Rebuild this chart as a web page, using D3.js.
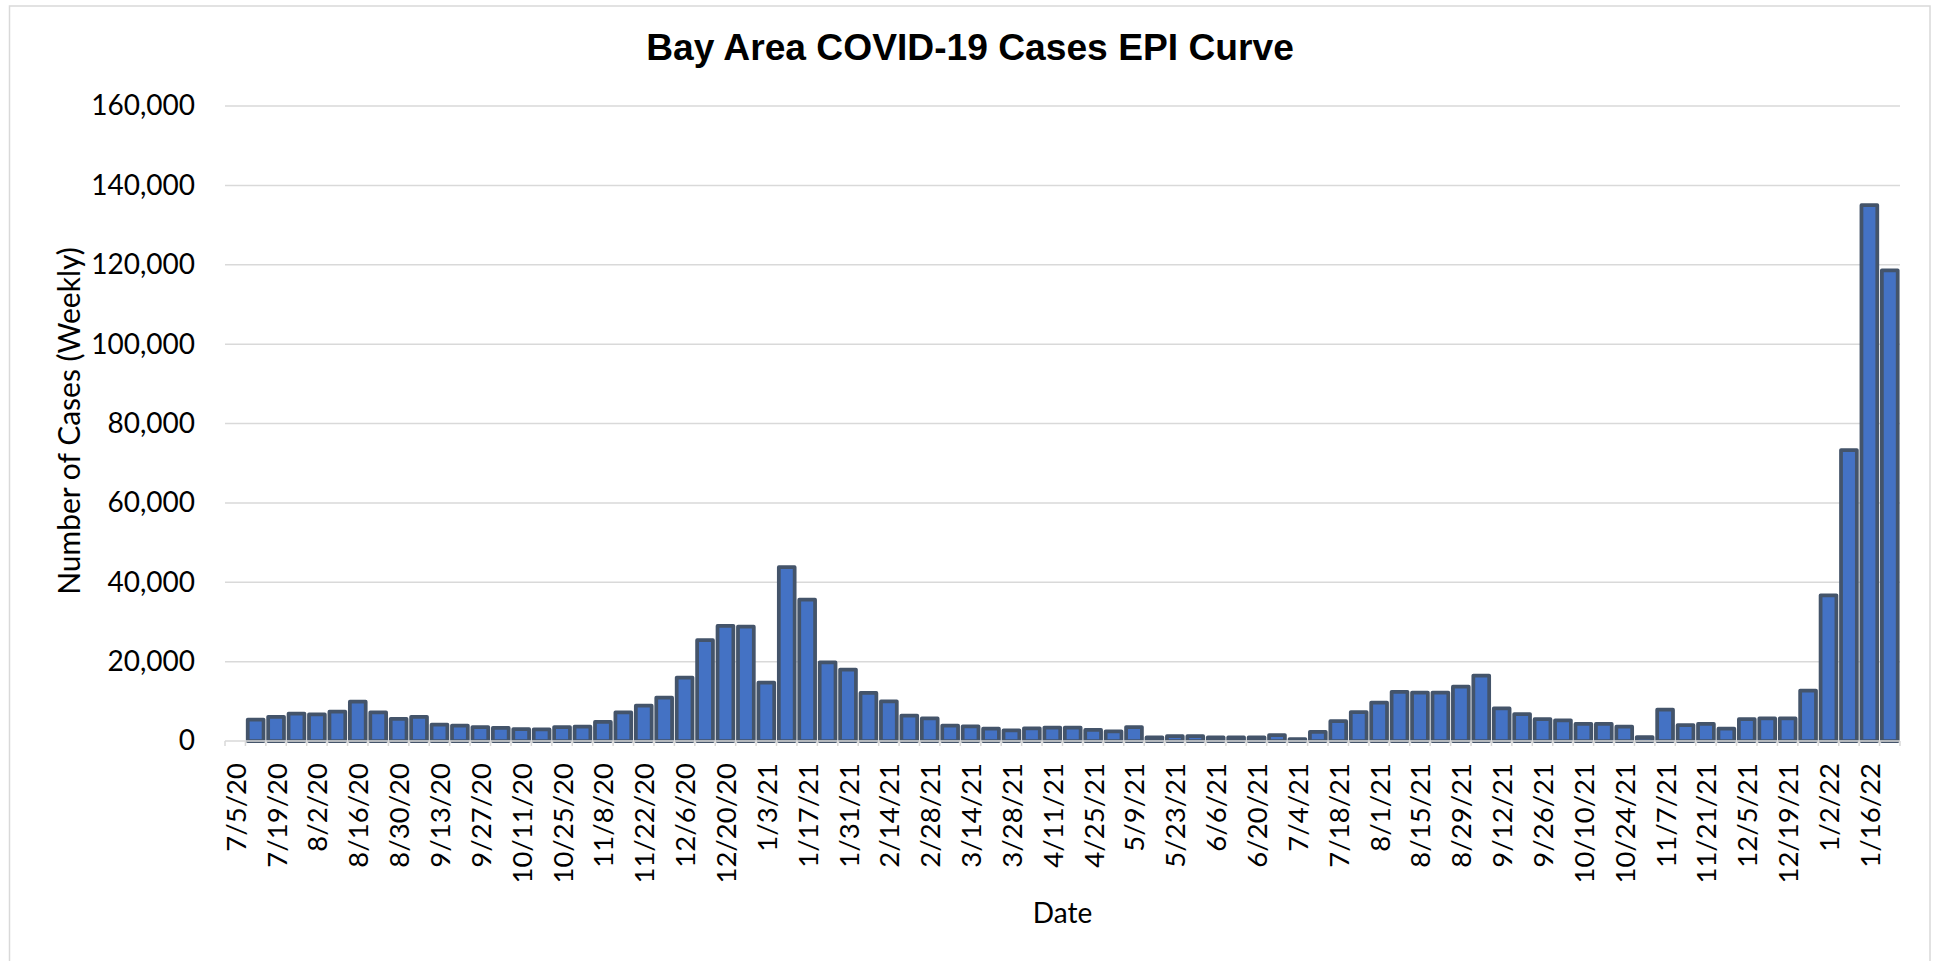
<!DOCTYPE html>
<html>
<head>
<meta charset="utf-8">
<script src="https://cdn.jsdelivr.net/npm/d3@7"></script>
<style>
  html, body { margin: 0; padding: 0; background: #ffffff; }
  svg { display: block; }
</style>
</head>
<body>
<svg id="chart" width="1939" height="961"></svg>
<script>
// ---------- data ----------
const categories = [
  "7/5/20","7/12/20","7/19/20","7/26/20","8/2/20","8/9/20","8/16/20","8/23/20","8/30/20","9/6/20",
  "9/13/20","9/20/20","9/27/20","10/4/20","10/11/20","10/18/20","10/25/20","11/1/20","11/8/20","11/15/20",
  "11/22/20","11/29/20","12/6/20","12/13/20","12/20/20","12/27/20","1/3/21","1/10/21","1/17/21","1/24/21",
  "1/31/21","2/7/21","2/14/21","2/21/21","2/28/21","3/7/21","3/14/21","3/21/21","3/28/21","4/4/21",
  "4/11/21","4/18/21","4/25/21","5/2/21","5/9/21","5/16/21","5/23/21","5/30/21","6/6/21","6/13/21",
  "6/20/21","6/27/21","7/4/21","7/11/21","7/18/21","7/25/21","8/1/21","8/8/21","8/15/21","8/22/21",
  "8/29/21","9/5/21","9/12/21","9/19/21","9/26/21","10/3/21","10/10/21","10/17/21","10/24/21","10/31/21",
  "11/7/21","11/14/21","11/21/21","11/28/21","12/5/21","12/12/21","12/19/21","12/26/21","1/2/22","1/9/22",
  "1/16/22","1/23/22"
];
const weeklyCases = [
  null, 5400, 6100, 6900, 6700, 7400, 9900, 7200, 5600, 6100,
  4100, 3900, 3500, 3300, 3000, 2900, 3500, 3600, 4800, 7200,
  8900, 10900, 16000, 25400, 29000, 28800, 14700, 43800, 35600, 19800,
  18000, 12100, 10000, 6400, 5700, 3900, 3700, 3100, 2700, 3200,
  3400, 3400, 2800, 2400, 3500, 900, 1200, 1200, 900, 900,
  900, 1500, 500, 2300, 5000, 7300, 9700, 12400, 12200, 12200,
  13700, 16500, 8200, 6800, 5500, 5200, 4300, 4300, 3600, 1000,
  7900, 4000, 4300, 3100, 5500, 5700, 5700, 12700, 36700, 73300,
  135000, 118600
];
const tickLabels = categories.filter((d, i) => i % 2 === 0);
const yTicks = [0, 20000, 40000, 60000, 80000, 100000, 120000, 140000, 160000];

const titleText = "Bay Area COVID-19 Cases EPI Curve";
const xTitle = "Date";
const yTitle = "Number of Cases (Weekly)";

// ---------- drawing ----------
const svg = d3.select("#chart");
const plot = { left: 225, right: 1900, top: 106, bottom: 741 };
const labelFont = "Lato, 'Open Sans', sans-serif";

// outer chart border
svg.append("rect")
  .attr("x", 9.5).attr("y", 6)
  .attr("width", 1920.5).attr("height", 1000)
  .attr("fill", "#ffffff")
  .attr("stroke", "#d9d9d9").attr("stroke-width", 1.5);

const data = categories.map((c, i) => ({ cat: c, value: weeklyCases[i] }));

const x = d3.scaleBand()
  .domain(categories)
  .range([plot.left, plot.right])
  .paddingInner(0.225)
  .paddingOuter(0.1125);

const y = d3.scaleLinear()
  .domain([0, 160000])
  .range([plot.bottom, plot.top]);

// gridlines
svg.append("g")
  .selectAll("line")
  .data(yTicks.filter(t => t > 0))
  .join("line")
  .attr("x1", plot.left).attr("x2", plot.right)
  .attr("y1", d => y(d)).attr("y2", d => y(d))
  .attr("stroke", "#d9d9d9").attr("stroke-width", 1.5);

// y axis labels
const yAxis = d3.axisLeft(y)
  .tickValues(yTicks)
  .tickFormat(d3.format(","))
  .tickSize(0)
  .tickPadding(0);
const yG = svg.append("g")
  .attr("transform", `translate(${195},0)`)
  .call(yAxis);
yG.select(".domain").remove();
yG.selectAll("text")
  .attr("font-family", labelFont)
  .attr("font-size", 28)
  .attr("fill", "#000")
  .attr("x", 0);

// bars
svg.append("g")
  .selectAll("rect")
  .data(data.filter(d => d.value != null))
  .join("rect")
  .attr("x", d => x(d.cat))
  .attr("width", x.bandwidth())
  .attr("y", d => y(d.value))
  .attr("height", d => y(0) - y(d.value))
  .attr("fill", "#4472c4")
  .attr("stroke", "#44546a")
  .attr("stroke-width", 3.75)
  .attr("stroke-linejoin", "round");

// x axis line & category boundary ticks
const half = (x.step() - x.bandwidth()) / 2;
const boundaries = categories.map(c => x(c) - half).concat([plot.right]);
const xg = svg.append("g");
xg.append("line")
  .attr("x1", plot.left).attr("x2", plot.right)
  .attr("y1", y(0)).attr("y2", y(0))
  .attr("stroke", "#d9d9d9").attr("stroke-width", 1.5);
xg.selectAll("line.tk")
  .data(boundaries)
  .join("line")
  .attr("class", "tk")
  .attr("x1", d => d).attr("x2", d => d)
  .attr("y1", y(0)).attr("y2", y(0) + 5)
  .attr("stroke", "#d9d9d9").attr("stroke-width", 1.5);

// x labels (every other week), rotated
const xAxis = d3.axisBottom(x).tickValues(tickLabels).tickSize(0).tickPadding(0);
const xG = svg.append("g")
  .attr("transform", `translate(0,${y(0)})`)
  .call(xAxis);
xG.select(".domain").remove();
xG.selectAll("text")
  .attr("font-family", labelFont)
  .attr("font-size", 27.5)
  .attr("fill", "#000")
  .attr("text-anchor", "end")
  .attr("dy", null)
  .attr("y", 0)
  .attr("transform", "translate(0,22) rotate(-90)")
  .attr("x", 0)
  .attr("dominant-baseline", "central");

// title
svg.append("text")
  .attr("x", 970).attr("y", 60)
  .attr("text-anchor", "middle")
  .attr("font-family", "'Liberation Sans', Arial, sans-serif")
  .attr("font-weight", "bold")
  .attr("font-size", 37.2)
  .attr("fill", "#000")
  .text(titleText);

// axis titles
svg.append("text")
  .attr("x", (plot.left + plot.right) / 2).attr("y", 923)
  .attr("text-anchor", "middle")
  .attr("font-family", labelFont)
  .attr("font-size", 28)
  .attr("fill", "#000")
  .text(xTitle);

svg.append("text")
  .attr("transform", `translate(80,421) rotate(-90)`)
  .attr("text-anchor", "middle")
  .attr("font-family", labelFont)
  .attr("font-size", 30)
  .attr("fill", "#000")
  .text(yTitle);
</script>
</body>
</html>
